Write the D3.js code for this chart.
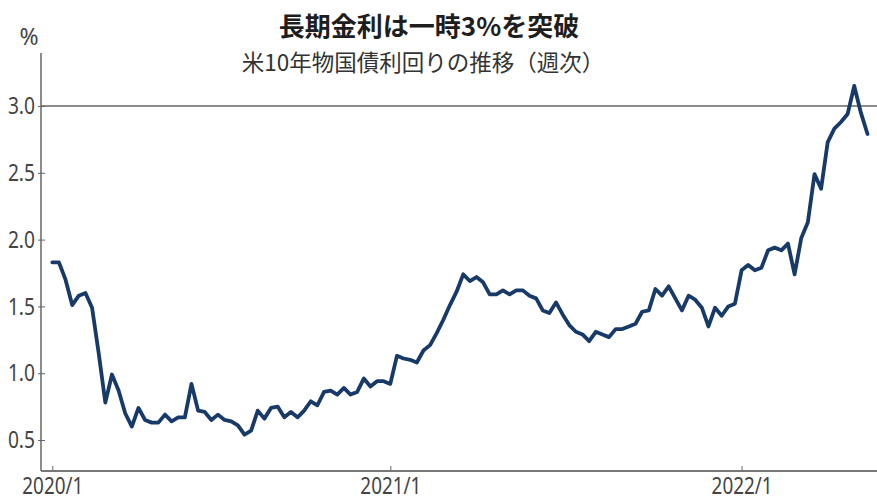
<!DOCTYPE html>
<html>
<head>
<meta charset="utf-8">
<script src="https://cdn.jsdelivr.net/npm/d3@7"></script>
<style>
  body { margin: 0; background: #fff; }
  svg { display: block; }
</style>
</head>
<body>
<svg width="877" height="501"></svg>
<script>
// weekly US 10y yield, fridays from 2020/1/10 to 2022/5/20
const firstWeek = new Date(2020, 0, 10)
const lastWeek = new Date(2022, 4, 20)

const yields = [
  1.83, 1.83, 1.70, 1.51, 1.58, 1.60, 1.49, 1.15, 0.78, 0.99,
  0.87, 0.70, 0.60, 0.74, 0.65, 0.63, 0.63, 0.69, 0.64, 0.67,
  0.67, 0.92, 0.72, 0.71, 0.65, 0.69, 0.65, 0.64, 0.61, 0.54,
  0.57, 0.72, 0.66, 0.74, 0.75, 0.67, 0.71, 0.67, 0.72, 0.79,
  0.76, 0.86, 0.87, 0.84, 0.89, 0.84, 0.86, 0.96, 0.90, 0.94,
  0.94, 0.92, 1.13, 1.11, 1.10, 1.08, 1.17, 1.21, 1.30, 1.40,
  1.51, 1.61, 1.74, 1.69, 1.72, 1.68, 1.59, 1.59, 1.62, 1.59,
  1.62, 1.62, 1.58, 1.56, 1.47, 1.45, 1.53, 1.44, 1.36, 1.31,
  1.29, 1.24, 1.31, 1.29, 1.27, 1.33, 1.33, 1.35, 1.37, 1.46,
  1.47, 1.63, 1.58, 1.65, 1.56, 1.47, 1.58, 1.55, 1.49, 1.35,
  1.49, 1.43, 1.50, 1.52, 1.77, 1.81, 1.77, 1.79, 1.92, 1.94,
  1.92, 1.97, 1.74, 2.01, 2.13, 2.49, 2.38, 2.73, 2.83, 2.88,
  2.94, 3.15, 2.95, 2.79
]

const yTicks = [0.5, 1.0, 1.5, 2.0, 2.5, 3.0]
const xTickLabels = ["2020/1", "2021/1", "2022/1"]

const title = "長期金利は一時3%を突破"
const subtitle = "米10年物国債利回りの推移（週次）"
const unit = "%"

const weeks = d3.timeFriday.range(firstWeek, d3.timeDay.offset(lastWeek, 1))
const data = weeks.map((d, i) => ({ date: d, value: yields[i] }))

// first week of each year carries the tick
const yearStarts = data.filter((d, i) => i === 0 || d.date.getFullYear() !== data[i - 1].date.getFullYear()).map(d => d.date)

const svg = d3.select("svg")
const W = 877, H = 501
const axisX = 41, axisY = 471, axisTop = 53

const x = d3.scaleTime()
  .domain([firstWeek, lastWeek])
  .range([52.3, 867.5])

const y = d3.scaleLinear()
  .domain([0.5, 3.0])
  .range([440, 106])

const labelFont = "'Noto Sans', sans-serif"

// squeeze labels to look condensed
const squeeze = function (sel, k) {
  sel.each(function () {
    const w = this.getComputedTextLength()
    d3.select(this).attr("textLength", w * k).attr("lengthAdjust", "spacingAndGlyphs")
  })
}

// titles
svg.append("text")
  .attr("x", 429).attr("y", 36)
  .attr("text-anchor", "middle")
  .style("font-family", "'Noto Sans CJK JP', sans-serif")
  .style("font-weight", 700)
  .style("font-size", "26px")
  .style("fill", "#1e1e1e")
  .text(title)

svg.append("text")
  .attr("x", 423).attr("y", 71)
  .attr("text-anchor", "middle")
  .style("font-family", "'Noto Sans CJK JP', sans-serif")
  .style("font-size", "22.5px")
  .style("fill", "#333")
  .text(subtitle)

svg.append("text")
  .attr("x", 29).attr("y", 45)
  .attr("text-anchor", "middle")
  .style("font-family", labelFont)
  .style("font-size", "23px")
  .style("fill", "#444")
  .text(unit)

// 3% line
svg.append("line")
  .attr("x1", axisX).attr("x2", W)
  .attr("y1", y(3.0)).attr("y2", y(3.0))
  .attr("stroke", "#666").attr("stroke-width", 1.5)

// y axis
const yAxis = svg.append("g")
  .attr("transform", `translate(${axisX},0)`)
  .call(d3.axisLeft(y).tickValues(yTicks).tickFormat(d3.format(".1f")).tickSize(3).tickPadding(3))

yAxis.select(".domain").remove()
yAxis.selectAll(".tick line").attr("x2", 4).attr("x1", -3).attr("stroke", "#666")
yAxis.selectAll(".tick text")
  .style("font-family", labelFont)
  .style("font-size", "24px")
  .style("fill", "#444")
  .call(squeeze, 0.8)

svg.append("line")
  .attr("x1", axisX).attr("x2", axisX)
  .attr("y1", axisTop).attr("y2", axisY)
  .attr("stroke", "#666").attr("stroke-width", 1.5)

// x axis
const xAxis = svg.append("g")
  .attr("transform", `translate(0,${axisY})`)
  .call(d3.axisBottom(x).tickValues(yearStarts).tickFormat((d, i) => xTickLabels[i]).tickSize(0).tickPadding(7))

xAxis.select(".domain").remove()
xAxis.selectAll(".tick line").attr("y1", -5).attr("y2", 0).attr("stroke", "#666")
xAxis.selectAll(".tick text")
  .attr("dy", "0.71em")
  .style("font-family", labelFont)
  .style("font-size", "23px")
  .style("fill", "#444")
  .call(squeeze, 0.82)

svg.append("line")
  .attr("x1", axisX).attr("x2", W)
  .attr("y1", axisY).attr("y2", axisY)
  .attr("stroke", "#777").attr("stroke-width", 2)

// the yield line
const line = d3.line()
  .x(d => x(d.date))
  .y(d => y(d.value))

svg.append("path")
  .datum(data)
  .attr("d", line)
  .attr("fill", "none")
  .attr("stroke", "#173a69")
  .attr("stroke-width", 3.8)
  .attr("stroke-linejoin", "round")
  .attr("stroke-linecap", "round")
</script>
</body>
</html>
